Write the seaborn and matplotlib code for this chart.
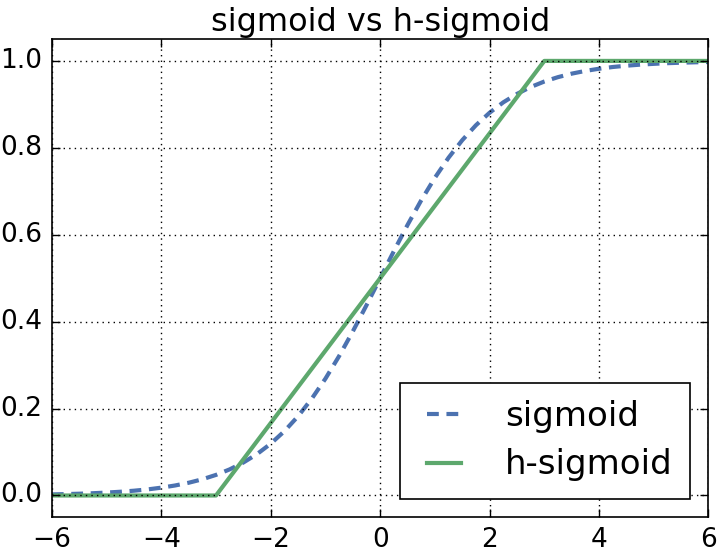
import matplotlib
matplotlib.use("Agg")
import matplotlib.pyplot as plt
import seaborn as sns
import pandas as pd

x_sig = [-6.0, -5.75, -5.5, -5.25, -5.0, -4.75, -4.5, -4.25, -4.0, -3.75, -3.5, -3.25,
         -3.0, -2.75, -2.5, -2.25, -2.0, -1.75, -1.5, -1.25, -1.0, -0.75, -0.5, -0.25,
         0.0, 0.25, 0.5, 0.75, 1.0, 1.25, 1.5, 1.75, 2.0, 2.25, 2.5, 2.75,
         3.0, 3.25, 3.5, 3.75, 4.0, 4.25, 4.5, 4.75, 5.0, 5.25, 5.5, 5.75, 6.0]
y_sig = [0.0025, 0.0032, 0.0041, 0.0052, 0.0067, 0.0086, 0.011, 0.014, 0.018, 0.023,
         0.0293, 0.0373, 0.0474, 0.0601, 0.0759, 0.0953, 0.1192, 0.148, 0.1824, 0.2227,
         0.2689, 0.3208, 0.3775, 0.4378, 0.5, 0.5622, 0.6225, 0.6792, 0.7311, 0.7773,
         0.8176, 0.852, 0.8808, 0.9047, 0.9241, 0.9399, 0.9526, 0.9627, 0.9707, 0.977,
         0.982, 0.986, 0.989, 0.9914, 0.9933, 0.9948, 0.9959, 0.9968, 0.9975]
x_hs = [-6.0, -3.0, 3.0, 6.0]
y_hs = [0.0, 0.0, 1.0, 1.0]
x_ticks = [-6, -4, -2, 0, 2, 4, 6]
y_ticks = [0.0, 0.2, 0.4, 0.6, 0.8, 1.0]

plt.style.use("classic")
plt.rcParams["lines.scale_dashes"] = False
blue = "#4C72B0"
green = "#5DA86D"

fig = plt.figure(figsize=(7.2, 5.52), dpi=100, facecolor="white")
ax = fig.add_axes([0.072, 0.063, 0.912, 0.866])
ax.set_facecolor("white")

df_sig = pd.DataFrame({"x": x_sig, "y": y_sig})
df_hs = pd.DataFrame({"x": x_hs, "y": y_hs})
sns.lineplot(data=df_sig, x="x", y="y", ax=ax, color=blue, lw=3,
             linestyle=(0, (8.5, 5.5)), label="sigmoid")
sns.lineplot(data=df_hs, x="x", y="y", ax=ax, color=green, lw=3,
             label="h-sigmoid")

ax.set_xlim(-6, 6)
ax.set_ylim(-0.05, 1.05)
ax.set_xticks(x_ticks)
ax.set_yticks(y_ticks)
ax.set_xticklabels([str(t).replace("-", "\u2212") for t in x_ticks])
ax.set_yticklabels([f"{t:.1f}" for t in y_ticks])
ax.tick_params(labelsize=19, direction="in", length=6, width=1, top=True, right=True, pad=7)
ax.grid(True, color="black", linestyle=":", linewidth=1)
ax.set_xlabel("")
ax.set_ylabel("")
for s in ax.spines.values():
    s.set_linewidth(1.2)
ax.set_title("sigmoid vs h-sigmoid", fontsize=23, pad=6)
leg = ax.legend(loc="lower right", fontsize=24.5, handlelength=1.6, fancybox=False,
                frameon=True, borderpad=0.5, labelspacing=0.45, handletextpad=1.0,
                borderaxespad=0.55)
leg.get_frame().set_edgecolor("black")
leg.get_frame().set_linewidth(1.2)

fig.savefig("out.png", dpi=100, facecolor="white")
